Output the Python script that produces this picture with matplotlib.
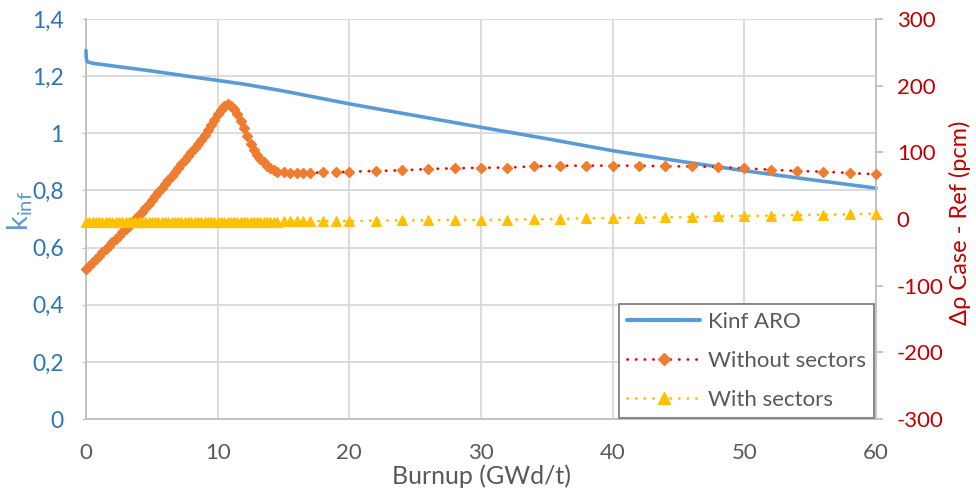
import matplotlib
matplotlib.use("Agg")
import matplotlib.pyplot as plt
from matplotlib.ticker import FuncFormatter, MultipleLocator
from matplotlib.lines import Line2D

plt.rcParams['font.family'] = ['Lato', 'DejaVu Sans']
plt.rcParams['axes.unicode_minus'] = False

# k-inf ARO curve
burnup_k = [0, 0.02, 0.1, 0.5, 2, 5, 8, 10, 12, 15, 20, 25, 30, 35, 40, 45, 50, 55, 60]
kinf = [1.29, 1.262, 1.25, 1.245, 1.236, 1.218, 1.198, 1.185, 1.172, 1.148, 1.103,
        1.062, 1.021, 0.981, 0.939, 0.903, 0.869, 0.838, 0.808]

# burnup steps of the reactivity differences
burnup = [0, 0.25, 0.5, 0.75, 1, 1.25, 1.5, 1.75, 2, 2.25, 2.5, 2.75,
          3, 3.25, 3.5, 3.75, 4, 4.25, 4.5, 4.75, 5, 5.25, 5.5, 5.75,
          6, 6.25, 6.5, 6.75, 7, 7.25, 7.5, 7.75, 8, 8.25, 8.5, 8.75,
          9, 9.25, 9.5, 9.75, 10, 10.25, 10.5, 10.75, 11, 11.25, 11.5, 11.75,
          12, 12.25, 12.5, 12.75, 13, 13.25, 13.5, 13.75, 14, 14.25, 14.5,
          15, 15.5, 16, 16.5, 17, 18, 19, 20,
          22, 24, 26, 28, 30, 32, 34, 36, 38, 40,
          42, 44, 46, 48, 50, 52, 54, 56, 58, 60]

without_sectors = [-75, -70, -65, -60, -55, -50, -45, -40, -35, -30, -25, -20,
                   -15, -10, -5, 0, 6, 11, 17, 22, 28, 34, 40, 46,
                   52, 58, 64, 70, 76, 82, 88, 94, 100, 106, 113, 119,
                   126, 133, 141, 149, 157, 164, 170, 172, 170, 165, 157, 147,
                   136, 124, 113, 103, 96, 90, 85, 80, 76, 73, 71,
                   70, 69, 69, 69, 69, 70, 70, 71,
                   72, 73, 75, 76, 77, 77, 79, 80, 80, 80,
                   80, 79, 79, 78, 76, 74, 72, 71, 69, 67]

with_sectors = [-4, -4, -4, -4, -4, -4, -4, -4, -4, -4, -4, -4,
                -4, -4, -4, -4, -4, -4, -4, -4, -4, -4, -4, -4,
                -4, -4, -4, -4, -4, -4, -4, -4, -4, -4, -4, -4,
                -4, -4, -4, -4, -4, -4, -4, -4, -4, -4, -4, -4,
                -4, -4, -4, -4, -4, -4, -4, -4, -4, -4, -4,
                -3, -3, -3, -3, -3, -3, -3, -3,
                -2.5, -2, -2, -1.5, -1.5, -1, -0.5, 0, 1, 1.5,
                2, 2.5, 3, 4, 4.5, 5, 6, 6.5, 7, 8]

BLUE = "#5B9BD5"
ORANGE = "#ED7D31"
YELLOW = "#FFC000"
GREY = "#595959"

fig = plt.figure(figsize=(9.76, 4.9), dpi=100)
ax1 = fig.add_axes([86 / 976, 1 - 419 / 490, 790 / 976, 400 / 490])
ax2 = ax1.twinx()

ax1.plot(burnup_k, kinf, color=BLUE, lw=2.6, solid_capstyle='round', clip_on=False, zorder=3)

ax2.plot(burnup, without_sectors, color="#FF0000", lw=2, linestyle=(0, (0.1, 3)),
         dash_capstyle='round', marker='D', markersize=5.4, markerfacecolor=ORANGE,
         markeredgecolor=ORANGE, markeredgewidth=1, clip_on=False, zorder=3)
ax2.plot(burnup, with_sectors, color=YELLOW, lw=2, linestyle=(0, (0.1, 3)),
         dash_capstyle='round', marker='^', markersize=7.5, markerfacecolor=YELLOW,
         markeredgecolor=YELLOW, markeredgewidth=0.8, clip_on=False, zorder=3)

# axes ranges and ticks
ax1.set_xlim(0, 60)
ax1.set_ylim(0, 1.4)
ax2.set_ylim(-300, 300)
ax1.xaxis.set_major_locator(MultipleLocator(10))
ax1.yaxis.set_major_locator(MultipleLocator(0.2))
ax2.yaxis.set_major_locator(MultipleLocator(100))
ax1.yaxis.set_major_formatter(FuncFormatter(lambda v, p: f"{v:g}".replace('.', ',')))

ax1.grid(True, color="#D9D9D9", lw=1.3)
ax1.set_axisbelow(True)
for ax in (ax1, ax2):
    for s in ax.spines.values():
        s.set_visible(False)
ax1.spines['left'].set_visible(True)
ax1.spines['bottom'].set_visible(True)
ax2.spines['right'].set_visible(True)
for s in (ax1.spines['left'], ax1.spines['bottom'], ax2.spines['right']):
    s.set_color("#BFBFBF")
    s.set_linewidth(1.3)

ax1.tick_params(axis='x', length=0, pad=17, labelsize=16, labelcolor=GREY)
ax1.tick_params(axis='y', length=3, color="#BFBFBF", pad=13, labelsize=16.5, labelcolor="#2E75B6")
ax2.tick_params(axis='y', length=5, color="#BFBFBF", width=1.3, pad=10, labelsize=16,
                labelcolor="#C00000")

ax1.set_xlabel("Burnup (GWd/t)", fontsize=18, color=GREY, labelpad=1)
ax1.set_ylabel(r"k$_{\mathregular{inf}}$", fontsize=21, color=BLUE)
ax1.yaxis.set_label_coords(-0.064, 0.52)
ax2.set_ylabel("Δρ Case - Ref (pcm)", fontsize=17, color="#C00000")
ax2.yaxis.set_label_coords(1.092, 0.49)

handles = [
    Line2D([], [], color=BLUE, lw=3, solid_capstyle='round'),
    Line2D([], [], color="#FF0000", lw=2, linestyle=(0, (0.1, 3)), dash_capstyle='round',
           marker='D', markersize=6, markerfacecolor=ORANGE, markeredgecolor=ORANGE),
    Line2D([], [], color=YELLOW, lw=2, linestyle=(0, (0.1, 3)), dash_capstyle='round',
           marker='^', markersize=9, markerfacecolor=YELLOW, markeredgecolor=YELLOW),
]
leg = ax2.legend(handles, ["Kinf ARO", "Without sectors", "With sectors"],
                 loc='lower right', bbox_to_anchor=(874 / 976, 72 / 490),
                 bbox_transform=fig.transFigure, borderaxespad=0, fontsize=16,
                 handlelength=3.3, handletextpad=0.35, labelspacing=0.85,
                 borderpad=0.36, fancybox=False, framealpha=1, labelcolor=GREY)
leg.get_frame().set_edgecolor("#7F7F7F")
leg.get_frame().set_linewidth(1.3)

fig.savefig("out.png", dpi=100)
